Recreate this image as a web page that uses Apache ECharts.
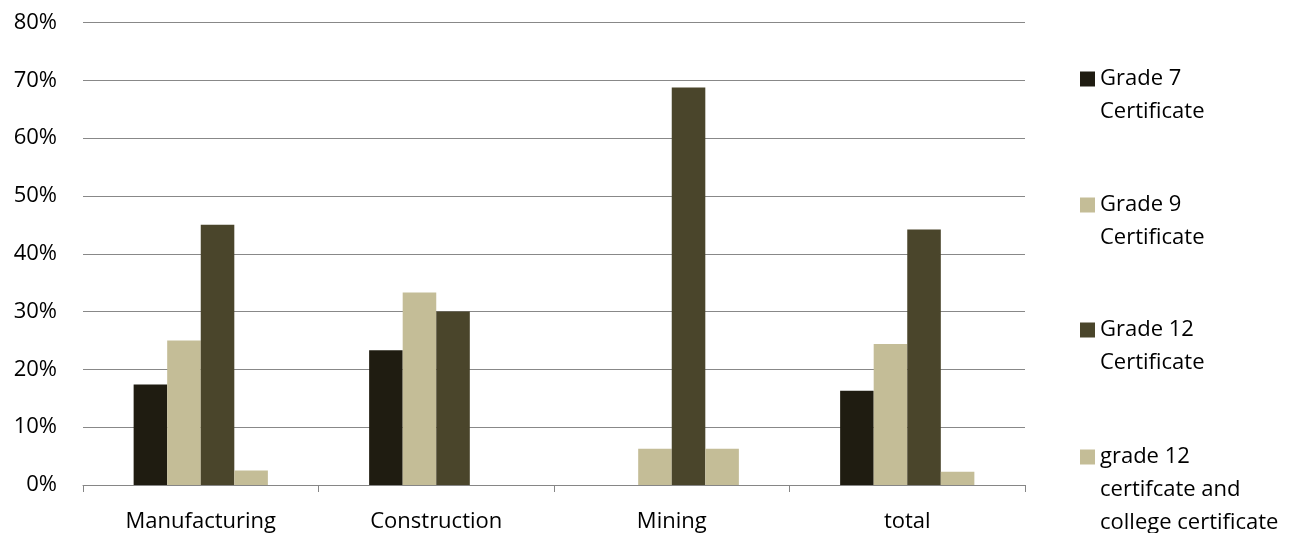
<!DOCTYPE html>
<html>
<head>
<meta charset="utf-8">
<script src="https://cdn.jsdelivr.net/npm/echarts@6/dist/echarts.min.js"></script>
<style>
  html, body { margin: 0; padding: 0; background: #ffffff; }
  #chart { width: 1293px; height: 533px; }
</style>
</head>
<body>
<div id="chart"></div>
<script>
// Share of workers by highest qualification, per sector (percent)
const categories = ['Manufacturing', 'Construction', 'Mining', 'total'];
const seriesNames = [
  'Grade 7 Certificate',
  'Grade 9 Certificate',
  'Grade 12 Certificate',
  'grade 12 certifcate and college certificate'
];
// wrapped legend text for each series
const legendLines = [
  ['Grade 7', 'Certificate'],
  ['Grade 9', 'Certificate'],
  ['Grade 12', 'Certificate'],
  ['grade 12', 'certifcate and', 'college certificate']
];
const grade7 = [17.4, 23.3, 0, 16.3];
const grade9 = [25.0, 33.3, 6.25, 24.4];
const grade12 = [45.0, 30.0, 68.75, 44.2];
const grade12College = [2.5, 0, 6.25, 2.3];
const yTicks = [0, 10, 20, 30, 40, 50, 60, 70, 80];

const colors = ['#1f1c11', '#c4bd97', '#4a452b', '#c4bd97'];
const values = [grade7, grade9, grade12, grade12College];
const FONT = '"Open Sans", sans-serif';
const FS = 22;
const LINE = 33;

const series = seriesNames.map((name, i) => ({
  name,
  type: 'bar',
  data: values[i],
  barGap: '0%',
  barCategoryGap: '43%',
  itemStyle: { color: colors[i] },
  animation: false
}));

// one legend block per series; blank lines above the text keep the
// marker level with the first text line
const legendTops = [79, 205, 330, 457];
const legends = seriesNames.map((name, i) => {
  const n = legendLines[i].length;
  const blanks = new Array(n - 1).fill(' ');
  return {
    orient: 'vertical',
    left: 1080,
    top: legendTops[i] - LINE / 2 - (n - 1) * LINE,
    data: [name],
    icon: 'rect',
    itemWidth: 15,
    itemHeight: 15,
    itemGap: 0,
    padding: 0,
    selectedMode: false,
    formatter: () => blanks.concat(legendLines[i]).join('\n'),
    textStyle: {
      fontFamily: FONT,
      fontSize: FS,
      color: '#000000',
      lineHeight: LINE
    }
  };
});

const chart = echarts.init(document.getElementById('chart'), null, { renderer: 'canvas' });
chart.setOption({
  animation: false,
  grid: { left: 83, right: 268, top: 22.5, bottom: 48, containLabel: false },
  legend: legends,
  xAxis: {
    type: 'category',
    data: categories,
    axisLine: { show: true, lineStyle: { color: '#868686', width: 1 } },
    axisTick: { show: true, length: 7, lineStyle: { color: '#868686' } },
    axisLabel: { fontFamily: FONT, fontSize: FS, color: '#000000', margin: 26 }
  },
  yAxis: {
    type: 'value',
    min: yTicks[0],
    max: yTicks[yTicks.length - 1],
    interval: 10,
    axisLine: { show: false },
    axisTick: { show: false },
    splitLine: { lineStyle: { color: '#888888', width: 1 } },
    axisLabel: {
      fontFamily: FONT, fontSize: FS, color: '#000000', margin: 26,
      formatter: v => v + '%'
    }
  },
  series
});
</script>
</body>
</html>
